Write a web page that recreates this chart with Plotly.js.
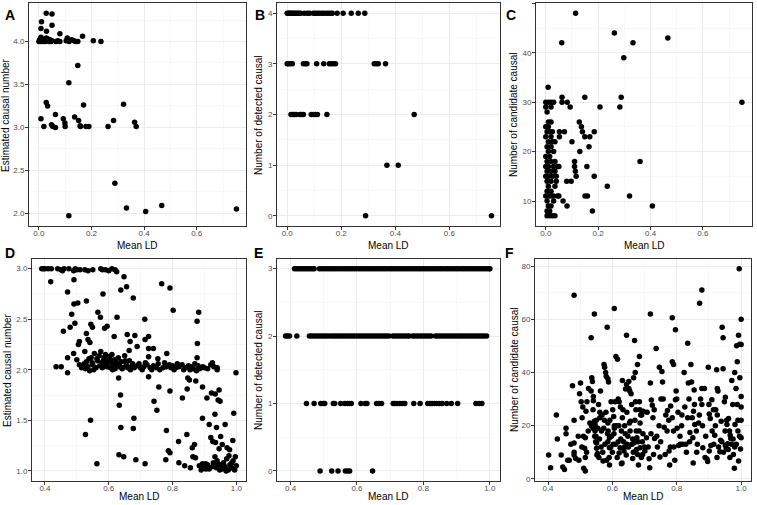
<!DOCTYPE html>
<html lang="en">
  <head>
    <meta charset="UTF-8" />
    <title>Mean LD panels</title>
    <script src="https://cdn.plot.ly/plotly-3.0.1.min.js"></script>
    <style>
      html, body { margin: 0; padding: 0; background: #fff; }
      #myDiv { width: 757px; height: 505px; }
    </style>
  </head>
  <body>
    <div id="myDiv"></div>
    <script>
      // panel A: estimated causal number (4 causal)
      var aX = [0.028, 0.05, 0.01, 0.05, 0.008, 0.029, 0.08, 0.166,
        0.0, 0.003, 0.006, 0.008, 0.01, 0.013, 0.016, 0.02, 0.024, 0.028, 0.031, 0.035, 0.038, 0.042, 0.046, 0.05,
        0.065, 0.072, 0.08, 0.104, 0.108, 0.115, 0.125, 0.133, 0.14, 0.148, 0.207, 0.236,
        0.148, 0.114, 0.028, 0.033, 0.17, 0.322, 0.063, 0.008, 0.093, 0.136, 0.151, 0.284,
        0.019, 0.048, 0.053, 0.063, 0.099, 0.1, 0.157, 0.158, 0.179, 0.19, 0.263, 0.364, 0.37,
        0.289, 0.333, 0.406, 0.467, 0.751, 0.114];
      var aY = [4.33, 4.32, 4.23, 4.19, 4.15, 4.12, 4.09, 4.06,
        4.0, 4.02, 4.0, 4.05, 4.01, 4.03, 4.0, 4.02, 4.0, 4.04, 4.01, 4.03, 4.0, 4.02, 4.0, 4.01,
        4.0, 4.01, 4.0, 4.01, 4.04, 4.0, 4.02, 4.01, 4.0, 4.0, 4.01, 4.0,
        3.72, 3.52, 3.29, 3.25, 3.26, 3.27, 3.15, 3.10, 3.10, 3.12, 3.08, 3.08,
        3.01, 3.03, 3.01, 3.0, 3.05, 3.01, 3.02, 3.01, 3.01, 3.01, 3.01, 3.06, 3.01,
        2.35, 2.06, 2.02, 2.09, 2.05, 1.97];

      // panel B: number of detected causal
      var bX = [0.0, 0.004, 0.008, 0.012, 0.016, 0.02, 0.025, 0.03, 0.035, 0.04, 0.045, 0.05, 0.063, 0.075, 0.083,
        0.097, 0.104, 0.111, 0.119, 0.128, 0.135, 0.144, 0.152, 0.16, 0.167, 0.185, 0.207, 0.237, 0.263, 0.287,
        0.0, 0.004, 0.011, 0.019, 0.06, 0.067, 0.073, 0.109, 0.135, 0.156, 0.163, 0.171, 0.179, 0.322, 0.33, 0.337, 0.364,
        0.014, 0.021, 0.027, 0.033, 0.047, 0.054, 0.06, 0.089, 0.097, 0.104, 0.112, 0.147, 0.47,
        0.369, 0.411, 0.29, 0.756];
      var bY = [4, 4, 4, 4, 4, 4, 4, 4, 4, 4, 4, 4, 4, 4, 4,
        4, 4, 4, 4, 4, 4, 4, 4, 4, 4, 4, 4, 4, 4, 4,
        3, 3, 3, 3, 3, 3, 3, 3, 3, 3, 3, 3, 3, 3, 3, 3, 3,
        2, 2, 2, 2, 2, 2, 2, 2, 2, 2, 2, 2, 2,
        1, 1, 0, 0];

      // panel C: number of candidate causal
      var cX = [0.114, 0.262, 0.061, 0.333, 0.466, 0.298, 0.749, 0.009, 0.062, 0.062, 0.082, 0.093,
        0.149, 0.288, 0.207, 0.283, 0.128, 0.136, 0.14, 0.149, 0.168, 0.185, 0.165, 0.13, 0.157, 0.185,
        0.1, 0.071, 0.052, 0.052, 0.11, 0.11, 0.113, 0.116, 0.08, 0.097, 0.235, 0.15, 0.159, 0.32, 0.36,
        0.066, 0.081, 0.178, 0.407,
        0.0, 0.01, 0.02, 0.03, 0.0, 0.02, 0.005, 0.01, 0.02, 0.0, 0.01, 0.005, 0.015, 0.025, 0.0, 0.02,
        0.01, 0.025, 0.035, 0.005, 0.02, 0.01, 0.03, 0.0, 0.015, 0.005, 0.02, 0.035,
        0.0, 0.01, 0.03, 0.045, 0.05, 0.005, 0.02, 0.035, 0.0, 0.01, 0.025, 0.04, 0.005, 0.02, 0.04,
        0.01, 0.035, 0.005, 0.02, 0.0, 0.01, 0.02, 0.03, 0.045, 0.05, 0.005, 0.03, 0.01, 0.02,
        0.005, 0.015, 0.005, 0.015, 0.025, 0.035];
      var cY = [48, 44, 42, 42, 43, 39, 30, 33, 31, 30, 30, 29,
        31, 31, 29, 29, 26, 25, 24, 23, 23, 24, 21, 20, 17, 15,
        22, 24, 24, 23, 18, 17, 16, 15, 14, 14, 13, 11, 11, 11, 18,
        10, 9, 8, 9,
        30, 30, 30, 30, 29, 29, 28, 26, 26, 25, 25, 24, 24, 24, 23, 23,
        22, 22, 22, 21, 21, 20, 20, 19, 19, 18, 18, 18,
        17, 17, 17, 17, 17, 16, 16, 16, 15, 15, 15, 15, 14, 14, 14,
        13, 13, 12, 12, 11, 11, 11, 11, 11, 11, 10, 10, 9, 9,
        8, 8, 7, 7, 7, 7];

      // panel D: estimated causal number (3 causal)
      var dX = [0.39, 0.395, 0.40, 0.41, 0.42, 0.44, 0.45, 0.455, 0.46, 0.475, 0.49, 0.495, 0.50, 0.51, 0.525, 0.535,
        0.55, 0.575, 0.58, 0.59, 0.60, 0.61, 0.62, 0.625,
        0.418, 0.491, 0.471, 0.582, 0.638, 0.656, 0.648, 0.677, 0.766, 0.792, 0.802, 0.882, 0.877, 0.53, 0.503,
        0.491, 0.484, 0.494, 0.479, 0.458, 0.566, 0.574, 0.544, 0.549, 0.626, 0.713, 0.595, 0.587, 0.53, 0.535,
        0.541, 0.508, 0.505, 0.617, 0.658, 0.682, 0.714, 0.725, 0.667, 0.689, 0.664, 0.725, 0.74, 0.782, 0.725,
        0.754, 0.878, 0.877, 0.999,
        0.435, 0.451, 0.471, 0.471, 0.49, 0.50, 0.508, 0.515, 0.525, 0.53, 0.535, 0.54, 0.545, 0.55, 0.555, 0.56,
        0.565, 0.57, 0.572, 0.575, 0.578, 0.58, 0.585, 0.588, 0.59, 0.595, 0.598, 0.60, 0.605, 0.608, 0.61, 0.615,
        0.618, 0.62, 0.625, 0.63, 0.635, 0.64, 0.645, 0.65, 0.655, 0.66, 0.665, 0.67, 0.675, 0.68, 0.69, 0.70,
        0.71, 0.72, 0.73, 0.74, 0.75, 0.755, 0.77, 0.78, 0.79, 0.795, 0.80, 0.81, 0.82, 0.83, 0.84, 0.85, 0.86,
        0.87, 0.88, 0.89, 0.90, 0.91, 0.92, 0.925, 0.93, 0.94, 0.94, 0.523, 0.527, 0.538, 0.548, 0.553, 0.563,
        0.583, 0.593, 0.603, 0.612, 0.623, 0.633, 0.642, 0.652, 0.668, 0.695, 0.705, 0.715, 0.735, 0.76, 0.775,
        0.805, 0.815, 0.835, 0.855, 0.865, 0.875, 0.885, 0.895,
        0.631, 0.637, 0.633, 0.638, 0.632, 0.647, 0.543, 0.527, 0.563, 0.679, 0.677, 0.685, 0.714, 0.725, 0.757,
        0.742, 0.751, 0.792, 0.781, 0.787, 0.792, 0.779, 0.831, 0.819, 0.82, 0.838, 0.856, 0.846, 0.848, 0.853,
        0.873, 0.845, 0.862, 0.869, 0.864, 0.872, 0.884, 0.894, 0.904, 0.91, 0.894, 0.894, 0.908, 0.915, 0.922,
        0.934, 0.946, 0.943, 0.949, 0.933, 0.938, 0.92, 0.926, 0.935, 0.951, 0.965, 0.989, 0.992, 0.946, 0.956,
        0.971, 0.979,
        0.933, 0.94, 0.95, 0.955, 0.96, 0.965, 0.97, 0.975, 0.98, 0.985, 0.99, 0.995, 1.0, 0.997, 0.993, 0.986,
        0.977, 0.968, 0.958, 0.948, 0.942, 0.938, 0.928, 0.925, 0.915, 0.905, 0.898, 0.89];
      var dY = [3.0, 3.0, 3.0, 3.0, 3.0, 3.0, 2.99, 2.98, 3.0, 3.0, 2.98, 3.0, 2.99, 2.99, 2.99, 2.98,
        2.99, 3.0, 2.99, 2.99, 2.98, 3.0, 2.99, 2.97,
        2.87, 2.89, 2.77, 2.75, 2.79, 2.82, 2.92, 2.71, 2.85, 2.81, 2.59, 2.57, 2.48, 2.68, 2.66,
        2.65, 2.55, 2.46, 2.42, 2.38, 2.57, 2.52, 2.45, 2.42, 2.52, 2.50, 2.43, 2.41, 2.36, 2.30,
        2.27, 2.28, 2.25, 2.33, 2.35, 2.34, 2.30, 2.33, 2.28, 2.23, 2.19, 2.21, 2.21, 2.16, 2.13,
        2.11, 2.26, 2.12, 1.97,
        2.03, 2.03, 1.97, 2.12, 2.16, 2.10, 2.05, 2.02, 2.18, 2.08, 2.03, 1.99, 2.12, 2.05, 2.16, 2.02,
        2.09, 2.14, 2.04, 2.18, 2.07, 2.02, 2.12, 2.05, 2.15, 2.03, 2.09, 2.13, 2.02, 2.07, 2.15, 2.04,
        2.10, 2.01, 2.05, 2.12, 2.03, 2.08, 2.02, 2.14, 2.05, 2.02, 2.09, 2.03, 2.06, 2.02, 2.04, 2.02,
        2.03, 2.05, 2.02, 2.04, 2.02, 2.06, 2.02, 2.03, 2.05, 2.02, 2.04, 2.02, 2.03, 2.05, 2.02, 2.04, 2.03,
        2.06, 2.04, 2.02, 2.02, 2.01, 2.05, 2.07, 2.03, 2.0, 2.02, 2.06, 2.01, 2.11, 2.07, 2.0, 2.11,
        2.09, 2.06, 2.11, 2.0, 2.08, 2.06, 2.01, 2.09, 2.0, 2.06, 2.0, 2.07, 2.0, 2.0, 2.07,
        2.0, 2.06, 2.0, 2.0, 2.01, 1.99, 2.01, 2.03,
        1.92, 1.75, 1.65, 1.43, 1.16, 1.14, 1.50, 1.36, 1.07, 1.52, 1.42, 1.11, 1.07, 1.93, 1.83,
        1.69, 1.60, 1.79, 1.40, 1.20, 1.18, 1.11, 1.72, 1.29, 1.08, 1.05, 1.03, 1.81, 1.92, 1.90,
        1.89, 1.36, 1.23, 1.26, 1.14, 1.13, 1.05, 1.07, 1.07, 1.06, 1.83, 1.52, 1.72, 1.46, 1.77,
        1.76, 1.80, 1.70, 1.69, 1.56, 1.43, 1.33, 1.29, 1.28, 1.34, 1.46, 1.30, 1.57, 1.22, 1.26,
        1.23, 1.21,
        1.14, 1.10, 1.06, 1.02, 1.08, 1.04, 1.12, 1.01, 1.06, 1.03, 1.10, 1.01, 1.05, 1.14, 1.02, 1.08,
        1.15, 1.0, 1.04, 1.01, 1.06, 1.03, 1.08, 1.04, 1.02, 1.02, 1.04, 1.01];

      // panel E: number of detected causal (3 causal)
      var e3X = [0.412, 0.418, 0.424, 0.43, 0.436, 0.442, 0.448, 0.454, 0.46, 0.466, 0.471,
        0.487, 0.494, 0.501, 0.508, 0.515, 0.522, 0.529, 0.536, 0.543, 0.55, 0.557, 0.564, 0.571, 0.578, 0.585,
        0.592, 0.599, 0.606, 0.613, 0.62, 0.627, 0.634, 0.641, 0.648, 0.655, 0.662, 0.669, 0.676, 0.683, 0.69,
        0.697, 0.704, 0.711, 0.718, 0.725, 0.732, 0.739, 0.746, 0.753, 0.76, 0.767, 0.774, 0.781, 0.788, 0.795,
        0.802, 0.809, 0.816, 0.823, 0.83, 0.837, 0.844, 0.851, 0.858, 0.865, 0.872, 0.879, 0.886, 0.893, 0.9,
        0.907, 0.914, 0.921, 0.928, 0.935, 0.942, 0.949, 0.956, 0.963, 0.97, 0.977, 0.984, 0.991, 0.998, 1.0];
      var e2X = [0.385, 0.391, 0.397, 0.419,
        0.457, 0.464, 0.471, 0.478, 0.485, 0.492, 0.499, 0.506, 0.513, 0.521, 0.528, 0.535, 0.542, 0.549, 0.556,
        0.563, 0.57, 0.577, 0.584, 0.591, 0.598, 0.605, 0.612, 0.619, 0.626, 0.633, 0.64, 0.647, 0.654, 0.661,
        0.668, 0.675, 0.682, 0.689, 0.696, 0.708, 0.715, 0.722, 0.729, 0.736, 0.743, 0.75, 0.757, 0.768, 0.775,
        0.782, 0.789, 0.796, 0.803, 0.81, 0.817, 0.823, 0.836, 0.843, 0.85, 0.857, 0.864, 0.871, 0.878, 0.885,
        0.892, 0.899, 0.906, 0.913, 0.92, 0.927, 0.934, 0.941, 0.948, 0.955, 0.962, 0.969, 0.976, 0.983, 0.99];
      var e1X = [0.448, 0.471, 0.491, 0.499, 0.503, 0.529, 0.533, 0.551, 0.563, 0.571, 0.577, 0.583, 0.612, 0.625,
        0.63, 0.659, 0.666, 0.674, 0.709, 0.714, 0.721, 0.729, 0.737, 0.744, 0.771, 0.79, 0.813, 0.82, 0.826, 0.833,
        0.84, 0.848, 0.856, 0.87, 0.884, 0.903, 0.958, 0.968, 0.976];
      var e0X = [0.489, 0.524, 0.543, 0.565, 0.572, 0.578, 0.647];

      // panel F: number of candidate causal (3 causal)
      var fX = [0.402, 0.408, 0.426, 0.429, 0.441, 0.446, 0.451, 0.456, 0.456, 0.461, 0.466, 0.471, 0.476, 0.481,
        0.481, 0.481, 0.481, 0.481, 0.486, 0.494, 0.496, 0.498, 0.501, 0.503, 0.506, 0.508, 0.511, 0.516, 0.516,
        0.514, 0.516, 0.518, 0.521, 0.526, 0.534, 0.534, 0.536, 0.538, 0.541, 0.541, 0.544, 0.544, 0.546, 0.546,
        0.549, 0.551, 0.551, 0.554, 0.558, 0.561, 0.561, 0.563, 0.566, 0.571, 0.574, 0.576, 0.579, 0.581, 0.584,
        0.586, 0.588, 0.586, 0.586, 0.591, 0.591, 0.591, 0.596, 0.601, 0.604, 0.606, 0.606, 0.606, 0.611, 0.616,
        0.618, 0.621, 0.621, 0.624, 0.626, 0.628, 0.631, 0.631, 0.636, 0.638, 0.641, 0.644, 0.644, 0.646, 0.651,
        0.651, 0.654, 0.656, 0.661, 0.663, 0.666, 0.668, 0.669, 0.671, 0.672, 0.674, 0.676, 0.678, 0.678, 0.681,
        0.684, 0.684, 0.686, 0.686, 0.691, 0.694, 0.696, 0.701, 0.706, 0.708, 0.711, 0.714, 0.716, 0.718, 0.718,
        0.721, 0.724, 0.726, 0.728, 0.731, 0.736, 0.738, 0.746, 0.748, 0.751, 0.754, 0.756, 0.761, 0.764, 0.766,
        0.771, 0.776, 0.778, 0.781, 0.786, 0.786, 0.786, 0.79, 0.791, 0.794, 0.796, 0.796, 0.798, 0.801, 0.804,
        0.806, 0.811, 0.816, 0.818, 0.823, 0.828, 0.834, 0.834, 0.836, 0.838, 0.841, 0.844, 0.846, 0.848, 0.85,
        0.851, 0.852, 0.854, 0.856, 0.861, 0.864, 0.868, 0.871, 0.874, 0.878, 0.878, 0.878, 0.881, 0.886, 0.888,
        0.894, 0.896, 0.898, 0.901, 0.901, 0.904, 0.906, 0.909, 0.914, 0.918, 0.921, 0.924, 0.926, 0.926, 0.928,
        0.934, 0.936, 0.938, 0.941, 0.944, 0.944, 0.948, 0.951, 0.951, 0.954, 0.956, 0.958, 0.961, 0.964, 0.966,
        0.968, 0.971, 0.974, 0.976, 0.979, 0.98, 0.981, 0.984, 0.986, 0.988, 0.988, 0.99, 0.992, 0.992, 0.994,
        0.996, 0.996, 0.998, 1.0, 1.0, 1.0, 1.0, 1.0, 1.0,
        0.53, 0.54, 0.545, 0.55, 0.555, 0.56, 0.565, 0.57, 0.575, 0.58, 0.585, 0.59, 0.595, 0.60, 0.605, 0.61,
        0.615, 0.62, 0.625, 0.63, 0.635, 0.64, 0.645, 0.65, 0.655, 0.66, 0.665, 0.67, 0.675, 0.68, 0.685, 0.69,
        0.695, 0.70, 0.93, 0.94, 0.945, 0.95, 0.955, 0.96, 0.97, 0.975, 0.985, 0.99, 0.995, 0.98, 0.965, 0.925, 0.915,
        0.505, 0.51, 0.52, 0.525, 0.535, 0.54, 0.548, 0.552, 0.557, 0.568, 0.573, 0.577, 0.582, 0.587, 0.592, 0.597,
        0.603, 0.608, 0.613, 0.618, 0.628, 0.633, 0.638, 0.643, 0.648, 0.653, 0.658, 0.663, 0.673, 0.683, 0.688,
        0.693, 0.72, 0.73, 0.74, 0.745, 0.75, 0.758, 0.77, 0.775, 0.78, 0.79, 0.80, 0.81, 0.815, 0.825, 0.83,
        0.84, 0.855, 0.862, 0.87, 0.88, 0.89, 0.90, 0.91, 0.92];
      var fY = [9, 4.2, 24, 15, 9, 4.5, 3.5, 19, 17, 7, 7, 13, 35, 69,
        22, 13.5, 10, 9, 7.7, 16, 7, 32, 36, 29, 23, 27, 4, 3, 8,
        11.5, 15.5, 25.4, 29, 34, 53, 33, 38, 36.6, 31, 29.4, 21.7, 62, 20.4, 18,
        16, 13.5, 11.5, 9.5, 8, 25, 23, 33, 18, 6.7, 43, 42, 40, 38.5, 57,
        37.6, 36.4, 21, 14, 15.5, 11.7, 5.2, 29, 26, 23.4, 64, 20, 19, 46, 45,
        30, 29, 9.7, 11.7, 15, 5.7, 37, 23, 10.5, 20, 33.8, 54, 35.6, 13, 36.6,
        34, 33, 21.7, 13, 7.7, 38, 13.6, 52, 40, 29, 18, 15.5, 43, 9.2, 5.2,
        46, 29, 21, 11.7, 24, 9.2, 25.4, 10.5, 15.5, 25, 12, 7.6, 4.2, 62, 36,
        29.6, 27.7, 23, 9.2, 15.2, 49, 16, 42, 8.2, 30, 40.4, 36.4, 19.4, 9.2, 24,
        25.7, 10.5, 5.2, 27.4, 60.6, 44, 23, 43, 12, 7, 56, 29.7, 33, 19, 25,
        12.5, 13, 24, 13, 40, 13, 51, 23, 36, 30, 17.4, 43, 36.4, 23, 15.5,
        6, 25.4, 33.4, 20.4, 18, 13, 21, 66, 30, 34, 71, 28, 11.7, 34, 8,
        7.5, 6.5, 42, 24.4, 10.5, 22.7, 12.5, 29.7, 26, 16.4, 26, 41, 34, 24, 33,
        10.2, 14.5, 21.7, 57, 53, 41.4, 29, 30.7, 12.5, 11.5, 20.4, 13.2, 22.7, 18, 16.4,
        15.2, 37, 28, 9.2, 4, 40, 20.4, 34, 50, 44, 28, 18, 54, 6.7, 79,
        38, 50.6, 11.2, 60, 31, 27, 22, 15.5, 50.5,
        21, 19, 16, 22, 19, 15, 12, 10, 22, 25, 17, 8, 12, 10, 17, 13,
        8, 20, 27, 6, 14, 17, 25, 12, 18, 28, 10, 22, 11, 14, 26, 8,
        17, 12, 12, 14, 10, 18, 22, 11, 13, 15, 13, 22, 16, 12, 8, 8, 13,
        12, 16, 10, 18, 20, 26, 14, 9, 28, 24, 19, 13, 7, 18, 22, 16,
        13, 29, 20, 14, 18, 26, 12, 9, 16, 21, 32, 15, 26, 18, 24,
        14, 17, 26, 12, 20, 14, 30, 18, 22, 12, 18, 30, 16, 20, 27, 10,
        14, 28, 10, 24, 20, 16, 28, 18, 20];

      var e3Y = e3X.map(function () { return 3; });
      var e2Y = e2X.map(function () { return 2; });
      var e1Y = e1X.map(function () { return 1; });
      var e0Y = e0X.map(function () { return 0; });

      var dot = { color: "#000000", size: 5.5 };
      function pts(xs, ys, n) {
        return { x: xs, y: ys, xaxis: "x" + n, yaxis: "y" + n, type: "scatter", mode: "markers",
          marker: dot, hoverinfo: "skip", showlegend: false };
      }

      var data = [
        pts(aX, aY, ""), pts(bX, bY, "2"), pts(cX, cY, "3"), pts(dX, dY, "4"),
        pts(e3X.concat(e2X, e1X, e0X), e3Y.concat(e2Y, e1Y, e0Y), "5"), pts(fX, fY, "6"),
      ];

      function axis(domain, range, dtick, fmt, anchor, isX) {
        return {
          domain: domain, range: range, anchor: anchor, tickmode: "linear", tick0: 0, dtick: dtick,
          tickformat: fmt, showline: true, mirror: true, linecolor: "#333333", linewidth: 1,
          ticks: "outside", ticklen: 3, tickwidth: 1, tickcolor: "#333333",
          ticklabelstandoff: isX ? -4 : -1,
          showgrid: true, gridcolor: "#ebebeb", gridwidth: 1, zeroline: false,
          minor: { tick0: 0, dtick: dtick / 2, showgrid: true, gridcolor: "#f4f4f4", gridwidth: 0.6, ticks: "" },
          tickfont: { family: "Liberation Sans, Arial, sans-serif", size: 8, color: "#4d4d4d" },
          fixedrange: true,
        };
      }

      var topY = [0.5525, 0.994];
      var botY = [0.0475, 0.488];
      var topX = [-0.0375, 0.7875];
      var botX = [0.3595, 1.0305];

      var layout = {
        width: 757, height: 505,
        margin: { l: 0, r: 0, t: 0, b: 0 },
        paper_bgcolor: "#ffffff", plot_bgcolor: "#ffffff",
        font: { family: "Liberation Sans, Arial, sans-serif", color: "#000000" },
        xaxis: axis([0.0383, 0.325], topX, 0.2, ".1f", "y", true),
        yaxis: axis(topY, [1.852, 4.448], 0.5, ".1f", "x"),
        xaxis2: axis([0.366, 0.6605], topX, 0.2, ".1f", "y2", true),
        yaxis2: axis(topY, [-0.2, 4.2], 1, "d", "x2"),
        xaxis3: axis([0.708, 0.9934], topX, 0.2, ".1f", "y3", true),
        yaxis3: axis(topY, [4.95, 50.05], 10, "d", "x3"),
        xaxis4: axis([0.0423, 0.325], botX, 0.2, ".1f", "y4", true),
        yaxis4: axis(botY, [0.9, 3.1], 0.5, ".1f", "x4"),
        xaxis5: axis([0.366, 0.6605], botX, 0.2, ".1f", "y5", true),
        yaxis5: axis(botY, [-0.15, 3.15], 1, "d", "x5"),
        xaxis6: axis([0.7067, 0.992], botX, 0.2, ".1f", "y6", true),
        yaxis6: axis(botY, [-0.8, 82.8], 20, "d", "x6"),
        annotations: [],
      };

      // panel letters, axis titles
      var W = 757, H = 505;
      function note(text, px, py, opts) {
        var a = { text: text, xref: "paper", yref: "paper", x: px / W, y: 1 - py / H,
          xanchor: "center", yanchor: "middle", showarrow: false,
          font: { family: "Liberation Sans, Arial, sans-serif", size: 10, color: "#000000" } };
        return Object.assign(a, opts || {});
      }
      var letters = [["A", 10, 15], ["B", 260, 15], ["C", 511, 15], ["D", 10, 253], ["E", 258, 253], ["F", 509, 253]];
      letters.forEach(function (l) {
        layout.annotations.push(note("<b>" + l[0] + "</b>", l[1], l[2],
          { font: { family: "Liberation Sans, Arial, sans-serif", size: 14, color: "#000000" } }));
      });
      var xTitles = [[137, 245], [388, 245], [644, 245], [139, 496], [388, 496], [643, 496]];
      xTitles.forEach(function (t) { layout.annotations.push(note("Mean LD", t[0], t[1])); });
      var yTitles = [["Estimated causal number", 6, 115], ["Number of detected causal", 259, 115],
        ["Number of candidate causal", 514, 115], ["Estimated causal number", 7, 370],
        ["Number of detected causal", 258, 370], ["Number of candidate causal", 514, 370]];
      yTitles.forEach(function (t) { layout.annotations.push(note(t[0], t[1], t[2], { textangle: -90 })); });

      Plotly.newPlot("myDiv", data, layout, { staticPlot: true, displayModeBar: false });
    </script>
  </body>
</html>
